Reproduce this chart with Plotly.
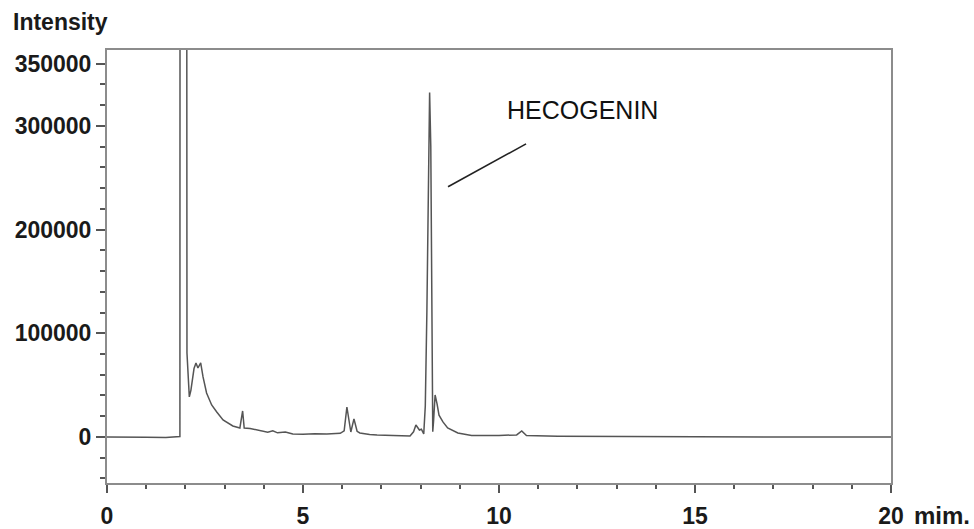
import plotly.graph_objects as go

# ---- data ----
time_min = [0.00, 0.50, 1.00, 1.50, 1.80, 1.86, 1.87, 2.02, 2.04, 2.10, 2.14, 2.22,
            2.27, 2.32, 2.39, 2.45, 2.54, 2.67, 2.80, 2.96, 3.21, 3.39, 3.46, 3.50,
            3.65, 3.82, 3.95, 4.10, 4.23, 4.35, 4.55, 4.74, 5.00, 5.30, 5.61, 5.95,
            6.05, 6.12, 6.22, 6.30, 6.38, 6.45, 6.70, 6.89, 7.30, 7.73, 7.82, 7.88,
            7.97, 8.02, 8.08, 8.12, 8.16, 8.20, 8.23, 8.26, 8.29, 8.31, 8.33, 8.37,
            8.42, 8.47, 8.57, 8.69, 8.95, 9.30, 10.00, 10.45, 10.58, 10.70, 11.50,
            13.00, 15.00, 17.00, 19.46, 20.00]
intensity = [0, -500, -300, -600, 0, 500, 1500000, 1500000, 81000, 38600, 45000, 66000,
             71400, 66500, 71400, 57900, 42400, 30900, 24100, 16400, 10600, 8700, 25100, 8700,
             8200, 6700, 6200, 4500, 6000, 4000, 4800, 2900, 2600, 3200, 2900, 3500,
             6000, 28900, 4800, 17400, 5500, 3900, 2500, 1900, 1500, 1000, 5000, 11600,
             6700, 7500, 3000, 30000, 120000, 280000, 332000, 280000, 120000, 5000, 15000, 40500,
             32000, 21000, 14500, 8700, 3900, 1500, 1500, 2000, 5800, 1500, 800,
             500, 300, 0, 0, 0]

x_tickvals = [0, 5, 10, 15, 20]
x_ticktext = ["0", "5", "10", "15", "20"]
y_tickvals = [0, 100000, 200000, 300000, 360000]
y_ticktext = ["0", "100000", "200000", "300000", "350000"]

peak_label = "HECOGENIN"
peak_label_pos = (12.14, 315000)
leader_start = (8.70, 241200)
leader_end = (10.69, 282600)

FAMILY = "Liberation Sans, Arial, sans-serif"
TICK_FONT = dict(family=FAMILY, size=23, color="#1a1a1a", weight="bold")

fig = go.Figure()
fig.add_trace(go.Scatter(
    x=time_min, y=intensity, mode="lines",
    line=dict(color="#555555", width=1.5),
    showlegend=False, hoverinfo="skip",
))

fig.add_shape(type="line", xref="x", yref="y",
              x0=leader_start[0], y0=leader_start[1], x1=leader_end[0], y1=leader_end[1],
              line=dict(color="#222222", width=1.6))

fig.add_annotation(x=peak_label_pos[0], y=peak_label_pos[1], xref="x", yref="y",
                   text=peak_label, showarrow=False,
                   font=dict(family=FAMILY, size=25, color="#111111"))

# axis title texts
fig.add_annotation(x=-96/784, y=1 + 28/433, xref="paper", yref="paper",
                   xanchor="left", yanchor="middle", text="Intensity", showarrow=False,
                   font=dict(family=FAMILY, size=23, color="#1a1a1a", weight="bold"))
fig.add_annotation(x=1 + 21/784, y=-32/433, xref="paper", yref="paper",
                   xanchor="left", yanchor="middle", text="mim.", showarrow=False,
                   font=dict(family=FAMILY, size=24, color="#1a1a1a", weight="bold"))

fig.update_xaxes(
    range=[0, 20], tickmode="array", tickvals=x_tickvals, ticktext=x_ticktext,
    ticks="outside", ticklen=8, tickwidth=1.5, tickcolor="#555555",
    minor=dict(dtick=1, tick0=0, ticks="outside", ticklen=4, tickwidth=1.5, tickcolor="#555555"),
    showline=True, linecolor="#8c8c8c", linewidth=2, mirror=True,
    showgrid=False, zeroline=False, ticklabelstandoff=3, automargin=False,
    tickfont=TICK_FONT,
)
fig.update_yaxes(
    range=[-44370, 373100], tickmode="array", tickvals=y_tickvals, ticktext=y_ticktext,
    ticks="outside", ticklen=9, tickwidth=1.5, tickcolor="#555555",
    minor=dict(dtick=20000, tick0=0, ticks="outside", ticklen=5, tickwidth=1.5, tickcolor="#555555"),
    showline=True, linecolor="#8c8c8c", linewidth=2, mirror=True,
    showgrid=False, zeroline=False, automargin=False,
    tickfont=TICK_FONT,
)

fig.update_layout(
    width=974, height=529,
    margin=dict(l=107, r=83, t=50, b=46, pad=0, autoexpand=False),
    paper_bgcolor="white", plot_bgcolor="white",
)

# remove the browser's default 8px body margin so the figure fills the window exactly
fig.write_html("out.html", config={"displayModeBar": False},
               post_script="document.body.style.margin='0';")
